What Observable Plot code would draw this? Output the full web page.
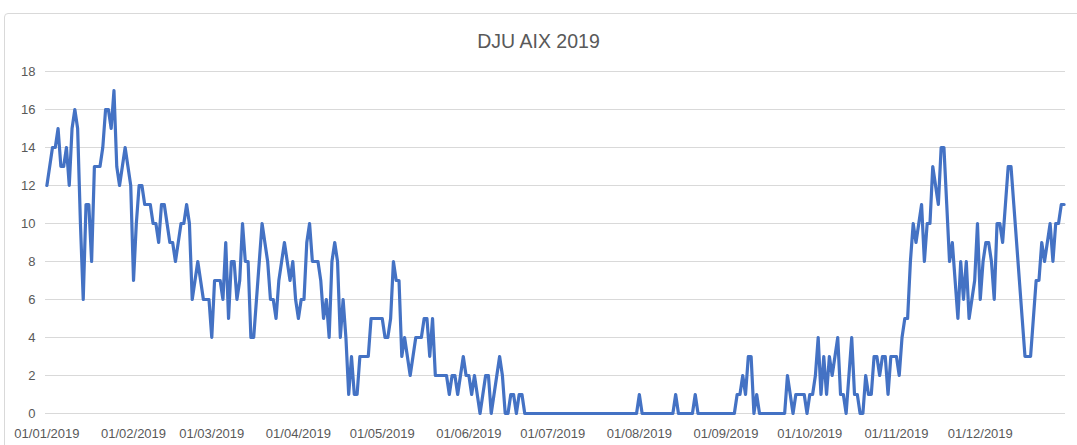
<!DOCTYPE html>
<html>
<head>
<meta charset="utf-8">
<script src="https://cdn.jsdelivr.net/npm/d3@7"></script>
<script src="https://cdn.jsdelivr.net/npm/@observablehq/plot@0.6"></script>
<style>
  html, body { margin: 0; padding: 0; background: #ffffff; }
  #wrap { position: relative; width: 1077px; height: 445px; overflow: hidden; font-family: "Liberation Sans", Arial, sans-serif; }
  #frame { position: absolute; left: 4px; top: 13px; width: 1090px; height: 460px; border: 1px solid #d9d9d9; border-radius: 4px; box-sizing: border-box; }
  #title { position: absolute; left: 0; top: 30px; width: 1077px; text-align: center; font-size: 19.5px; line-height: 23px; color: #595959; }
  #chart { position: absolute; left: 0; top: 0; }
</style>
</head>
<body>
<div id="wrap">
  <div id="frame"></div>
  <div id="title">DJU AIX 2019</div>
  <div id="chart"></div>
</div>
<script>
// Daily DJU values for Aix, 2019 (1 Jan .. 31 Dec)
const startDate = "2019-01-01";
const djuJan = [12,13,14,14,15,13,13,14,12,15,16,15,10,6,11,11,8,13,13,13,14,16,16,15,17,13,12,13,14,13,12];
const djuFeb = [7,10,12,12,11,11,11,10,10,9,11,11,10,9,9,8,9,10,10,11,10,6,7,8,7,6,6,6];
const djuMar = [4,7,7,7,6,9,5,8,8,6,7,10,8,8,4,4,6,8,10,9,8,6,6,5,7,8,9,8,7,8,6];
const djuApr = [5,6,6,9,10,8,8,8,7,5,6,4,8,9,8,4,6,4,1,3,1,1,3,3,3,3,5,5,5,5];
const djuMay = [5,4,4,5,8,7,7,3,4,3,2,3,4,4,4,5,5,3,5,2,2,2,2,2,1,2,2,1,2,3,2];
const djuJun = [2,1,2,1,0,1,2,2,0,1,2,3,2,0,0,1,1,0,1,1,0,0,0,0,0,0,0,0,0,0];
const djuJul = [0,0,0,0,0,0,0,0,0,0,0,0,0,0,0,0,0,0,0,0,0,0,0,0,0,0,0,0,0,0,0];
const djuAug = [1,0,0,0,0,0,0,0,0,0,0,0,0,1,0,0,0,0,0,0,1,0,0,0,0,0,0,0,0,0,0];
const djuSep = [0,0,0,0,1,1,2,1,3,3,0,1,0,0,0,0,0,0,0,0,0,0,2,1,0,1,1,1,1,0];
const djuOct = [1,1,2,4,1,3,1,3,2,3,4,1,1,0,2,4,1,1,0,0,2,1,1,3,3,2,3,3,1,3,3];
const djuNov = [3,2,4,5,5,8,10,9,10,11,8,10,10,13,12,11,14,14,11,8,9,7,5,8,6,8,5,6,7,10];
const djuDec = [6,8,9,9,8,6,10,10,9,11,13,13,11,9,7,5,3,3,3,5,7,7,9,8,9,10,8,10,10,11,11];

const yTicks = [0,2,4,6,8,10,12,14,16,18];
const monthStarts = ["2019-01-01","2019-02-01","2019-03-01","2019-04-01","2019-05-01","2019-06-01",
                     "2019-07-01","2019-08-01","2019-09-01","2019-10-01","2019-11-01","2019-12-01"];

const values = [].concat(djuJan, djuFeb, djuMar, djuApr, djuMay, djuJun, djuJul, djuAug, djuSep, djuOct, djuNov, djuDec);
const t0 = new Date(startDate + "T00:00:00Z");
const data = values.map((v, i) => ({ date: d3.utcDay.offset(t0, i), v }));
const tickDates = monthStarts.map(s => new Date(s + "T00:00:00Z"));
const fmt = d3.utcFormat("%d/%m/%Y");

const chart = Plot.plot({
  width: 1077,
  height: 445,
  marginLeft: 45,
  marginRight: 12,
  marginTop: 71,
  marginBottom: 32,
  style: { background: "transparent", fontFamily: "'Liberation Sans', Arial, sans-serif", fontSize: "13px", color: "#595959" },
  x: { type: "utc", domain: [d3.utcHour.offset(t0, -12), d3.utcHour.offset(d3.utcDay.offset(t0, values.length - 1), 12)] },
  y: { domain: [0, 18] },
  marks: [
    Plot.gridY(yTicks, { stroke: "#d9d9d9", strokeOpacity: 1, strokeWidth: 1 }),
    Plot.axisY(yTicks, { tickSize: 0, tickPadding: 10, label: null, fill: "#595959" }),
    Plot.axisX(tickDates, { tickSize: 0, tickPadding: 15, label: null, tickFormat: fmt, fill: "#595959" }),
    Plot.line(data, { x: "date", y: "v", stroke: "#4472c4", strokeWidth: 3.2, strokeLinejoin: "round", strokeLinecap: "round" })
  ]
});
document.getElementById("chart").appendChild(chart);
</script>
</body>
</html>
